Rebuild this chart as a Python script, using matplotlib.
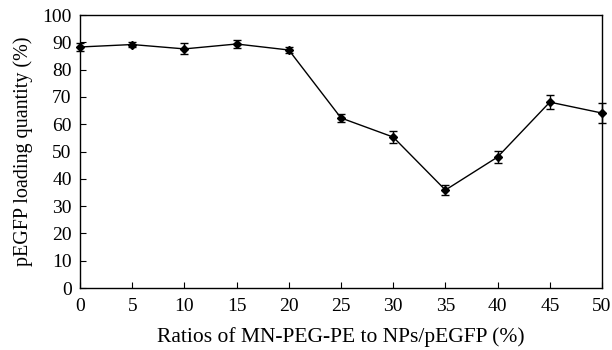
import matplotlib
matplotlib.use("Agg")
import matplotlib.pyplot as plt

ratios = [0, 5, 10, 15, 20, 25, 30, 35, 40, 45, 50]
loading = [88.3, 89.2, 87.6, 89.4, 87.2, 62.3, 55.3, 35.9, 48.0, 68.1, 64.1]
errors = [1.5, 1.0, 2.0, 1.3, 1.0, 1.5, 2.3, 1.7, 2.2, 2.5, 3.8]

plt.rcParams['font.family'] = ['Liberation Serif', 'DejaVu Serif']

fig = plt.figure(figsize=(6.12, 3.5), dpi=100)
ax = fig.add_axes([0.1307, 0.177, 0.853, 0.78])
ax.errorbar(ratios, loading, yerr=errors, color='black', lw=1.0, marker='D',
            markersize=4, capsize=3, elinewidth=1.0, capthick=1.0, clip_on=False)
ax.set_xlim(0, 50)
ax.set_ylim(0, 100)
ax.set_xticks(range(0, 51, 5))
ax.set_yticks(range(0, 101, 10))
ax.tick_params(axis='x', direction='in', length=4, labelsize=14, pad=7)
ax.tick_params(axis='y', direction='in', length=4, labelsize=14, pad=6)
for s in ax.spines.values():
    s.set_linewidth(1.0)
ax.set_xlabel('Ratios of MN-PEG-PE to NPs/pEGFP (%)', fontsize=15.5, labelpad=9)
ax.set_ylabel('pEGFP loading quantity (%)', fontsize=14.5, labelpad=7)
fig.savefig('out.png', dpi=100)
